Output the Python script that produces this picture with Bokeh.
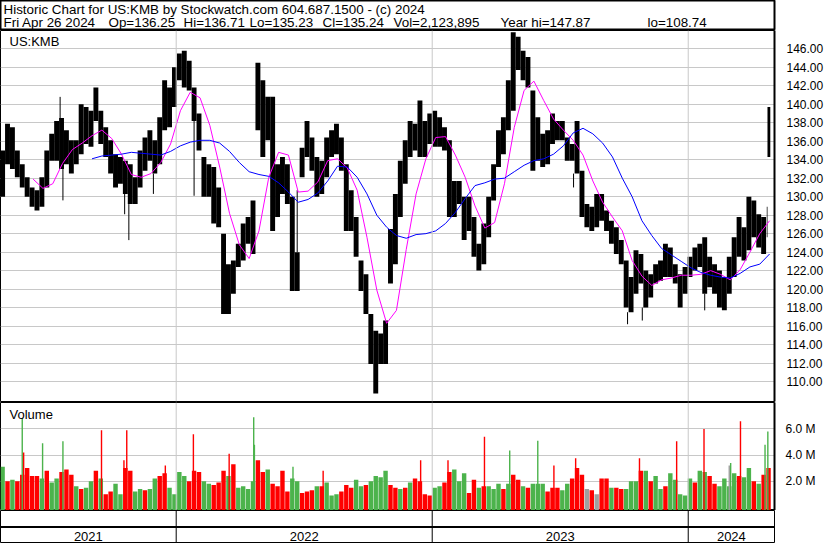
import pandas as pd
from bokeh.plotting import figure
from bokeh.layouts import column
from bokeh.models import Range1d, FixedTicker, PrintfTickFormatter, Span, Label, ColumnDataSource
from bokeh.embed import file_html
from bokeh.resources import INLINE
from bokeh.core.properties import value

FONT = "Liberation Sans"
DAY = 86400000.0

# ---------------- data ----------------
header_line1 = "Historic Chart for US:KMB by Stockwatch.com 604.687.1500 - (c) 2024"
header_fields = ["Fri Apr 26 2024", "Op=136.25", "Hi=136.71", "Lo=135.23", "Cl=135.24",
                 "Vol=2,123,895", "Year hi=147.87", "lo=108.74"]
symbol = "US:KMB"
years = ["2021", "2022", "2023", "2024"]
first_week = "2021-04-26"          # Monday of first weekly bar
last_days = ["2024-04-22", "2024-04-23"]   # final week split (Mon / Tue-Fri)
last_days_len = [1, 4]

# weekly high / low (weeks 0..155) + the two final partial bars
price_high = [135.0,137.9,137.5,135.0,133.5,132.1,131.0,130.7,132.1,135.0,
              136.8,138.2,138.5,137.2,136.1,136.1,140.0,139.7,139.3,141.8,
              139.3,137.5,136.1,134.6,134.3,133.9,133.5,132.1,135.0,136.4,
              137.2,136.1,138.6,142.6,141.8,144.0,145.5,145.8,144.7,141.8,
              139.0,134.3,133.5,133.2,131.0,126.0,122.7,123.1,124.9,127.1,
              127.8,129.6,144.5,142.6,140.8,140.8,133.5,134.3,133.5,130.0,
              124.0,135.3,138.2,136.4,134.3,133.9,136.4,137.2,137.9,136.4,
              133.5,130.7,127.8,123.1,121.6,117.3,115.5,115.2,116.6,126.5,
              130.3,133.9,136.1,138.2,137.9,140.4,138.2,139.0,139.3,138.6,
              137.5,136.1,131.7,131.7,130.0,130.0,127.8,124.9,127.1,130.0,
              133.5,137.2,138.6,142.6,147.8,147.3,145.8,145.1,141.5,138.6,
              136.8,137.2,139.0,138.2,138.2,136.4,135.7,138.2,132.8,129.2,
              128.9,130.3,130.3,128.5,127.4,126.7,125.3,123.1,121.3,124.2,
              123.8,122.0,121.6,122.7,123.1,124.9,124.5,122.7,121.6,122.4,
              123.5,124.5,124.9,125.6,123.5,122.7,122.0,121.3,123.5,125.6,
              127.8,126.7,130.0,129.6,128.1,127.8,
              128.9,139.7]
price_low = [130.0,133.5,133.0,132.1,131.0,130.0,128.9,128.5,128.9,131.0,
             133.9,133.9,133.0,133.5,132.5,133.5,134.6,135.7,135.4,138.2,
             135.7,134.3,132.5,131.0,131.4,130.3,129.2,129.2,131.0,132.8,
             133.9,132.5,133.5,137.2,137.5,139.7,142.6,141.8,141.5,138.2,
             135.0,130.0,130.0,127.1,126.7,117.3,117.3,119.5,122.4,123.1,
             124.9,123.8,137.2,134.3,136.1,126.3,127.8,130.3,129.2,119.8,
             119.8,132.1,134.3,132.8,130.0,130.3,132.1,134.3,134.6,132.8,
             126.3,126.3,123.5,119.8,117.3,111.9,108.7,111.9,111.9,120.6,
             122.7,127.8,131.4,134.3,135.0,134.3,134.3,135.7,135.4,135.4,
             135.0,127.8,127.8,129.2,125.3,126.3,123.5,122.0,122.7,125.6,
             129.6,133.2,134.6,137.2,139.3,143.7,142.6,141.8,132.8,133.9,
             133.2,133.5,135.7,136.1,136.1,133.9,133.9,132.5,127.8,126.7,
             126.3,126.7,127.4,126.3,124.9,123.8,122.7,118.0,117.5,119.5,
             120.6,118.0,119.1,120.6,120.9,121.3,121.3,120.6,118.0,119.5,
             121.3,122.0,122.4,119.5,120.2,119.5,118.0,117.7,119.5,121.3,
             123.5,123.1,124.2,125.6,124.5,123.8,
             125.6,134.3]

# single-day extremes (wicks)
wick_dates = ["2021-07-19", "2021-07-23", "2021-10-19", "2021-10-25", "2021-11-29", "2022-01-26",
              "2022-06-22", "2023-07-21", "2023-10-06", "2023-10-27", "2024-01-24"]
wick_hi = [140.8, 133.0, 130.3, 129.2, 132.5, 138.2, 130.7, 132.5, 117.5, 118.0, 119.5]
wick_lo = [138.5, 129.6, 128.1, 125.3, 130.3, 130.1, 124.0, 131.0, 116.2, 116.6, 117.7]

# moving averages, sampled every 2nd week (week-ending Friday)
pink_first_week = 6
pink_ma = [131.9,130.9,131.4,133.6,135.1,135.8,136.6,137.2,136.3,134.6,
           132.4,132.1,132.5,133.7,135.7,139.3,141.3,140.7,137.7,133.2,
           128.2,124.8,123.3,126.3,132.1,134.8,134.5,130.5,130.6,131.6,
           133.9,134.1,133.1,130.7,125.6,119.9,116.3,117.7,124.3,130.3,
           134.1,136.4,136.5,134.5,132.1,129.0,126.6,127.2,131.4,137.5,
           141.5,142.5,140.4,138.4,137.2,136.1,134.5,131.7,129.4,127.8,
           126.3,123.1,121.4,120.4,121.0,121.2,121.5,121.5,121.6,122.0,
           121.6,121.0,122.1,124.0,126.0,127.4]
blue_first_week = 18
blue_ma = [134.1,134.4,134.5,134.6,134.8,134.7,134.6,134.5,134.9,135.5,
           135.9,136.1,136.1,135.8,134.9,133.7,132.7,132.4,132.2,131.5,
           130.5,129.4,129.7,130.4,131.7,133.3,133.2,132.1,130.3,128.0,
           126.7,125.8,125.5,125.9,126.0,126.3,127.1,128.3,129.8,131.2,
           131.5,131.9,132.0,132.7,133.4,133.9,134.1,134.6,135.5,136.9,
           137.4,136.8,135.8,134.3,132.0,130.0,127.4,125.8,124.4,123.7,
           123.0,122.3,121.8,121.5,121.3,121.2,121.7,122.4,122.7,123.8]

# weekly typical volume (millions) and up/down colour (g / r / k=unchanged)
vol_base = [3.1,2.0,2.1,2.0,2.5,3.0,2.4,2.4,2.2,2.8,
            1.9,2.2,2.7,2.9,2.5,1.6,1.4,1.5,2.0,2.8,
            2.2,1.0,1.2,1.8,1.0,3.0,2.8,1.2,1.4,1.3,
            1.4,2.2,2.4,2.6,1.5,1.0,2.7,2.4,2.0,2.8,
            2.7,2.0,1.8,1.7,1.9,2.8,2.4,3.3,1.5,1.6,
            1.4,2.0,3.6,2.7,2.9,1.8,1.6,2.8,1.2,2.2,
            2.0,1.1,1.2,1.3,1.6,1.6,1.9,0.9,1.0,1.2,
            1.7,1.5,2.1,1.6,1.7,2.0,2.4,2.3,2.8,1.7,
            1.5,1.4,1.5,1.9,2.2,2.0,1.0,0.9,1.5,1.6,
            1.9,2.7,2.9,2.0,2.6,1.1,2.1,1.5,1.6,1.6,
            1.4,1.8,1.4,1.8,2.5,2.1,1.6,1.5,1.8,1.8,
            1.8,1.2,1.5,1.5,1.3,1.8,2.2,3.0,2.5,1.4,
            1.3,1.0,2.2,2.2,1.5,1.5,1.4,1.4,2.0,2.0,
            2.8,2.8,2.0,2.4,1.4,1.6,2.6,2.1,1.0,0.9,
            2.2,1.9,2.8,2.7,2.4,1.8,1.6,2.2,1.6,2.6,
            2.4,2.3,3.0,2.0,1.8,2.5,3.0]
vol_dir = ("grgrrrrrgr" "ggrrrgrggr" "grrggrrggr" "ggrrggggrr" "rggrrrgrgg"
           "ggrrgrrrrg" "grrrgrgggr" "rrggrggggr" "rgrgrrrrgg" "rrgggrrgrg"
           "ggrgrrgrgg" "grrrggrrrk" "rkrrgrrggg" "rgrggrgggg" "grggrrgggg" "rggrgrr")
spike_dates = ["2021-05-26", "2021-05-28", "2021-06-24", "2021-07-23", "2021-09-16", "2021-10-18",
               "2021-10-22", "2021-12-16", "2022-01-25", "2022-03-17", "2022-04-21", "2022-04-22",
               "2022-06-16", "2022-07-29", "2022-12-15", "2023-01-23", "2023-03-16", "2023-04-21",
               "2023-05-31", "2023-06-23", "2023-07-24", "2023-10-23", "2023-12-15", "2024-01-23",
               "2024-02-28", "2024-03-01", "2024-03-15", "2024-04-19", "2024-04-23"]
spike_vol = [6.8, 4.2, 4.9, 5.05, 5.9, 3.6, 5.9, 3.2, 5.6, 4.1, 6.9, 4.8, 3.1, 2.8, 3.6, 3.6, 5.4,
             4.35, 5.1, 3.2, 3.75, 3.75, 5.05, 6.0, 3.2, 3.4, 6.6, 4.8, 5.8]
spike_dir = "grggrrrrrrggg" "rrrrggrrrrrkgrgg"

price_ticks = list(range(110, 147, 2))
vol_ticks = [2, 4, 6]
price_lo, price_hi = 107.84, 147.98
vol_lo, vol_hi = -0.25, 8.03

# ---------------- derived ----------------
COL = {"g": "#4cb34c", "r": "#ff0000", "k": "#a0a0a0"}
mondays = pd.date_range(first_week, periods=157, freq="7D")
starts = list(mondays[:156]) + [pd.Timestamp(d) for d in last_days]
lens = [5] * 156 + last_days_len
bar_x = [s + pd.Timedelta(days=n / 2) for s, n in zip(starts, lens)]
bar_w = [7 * DAY] * 156 + [n * DAY for n in last_days_len]

fridays = mondays + pd.Timedelta(days=4)
pink_x = list(fridays[pink_first_week::2])
blue_x = list(fridays[blue_first_week::2])

vol_x = list(mondays + pd.Timedelta(days=2.5))
vol_c = [COL[c] for c in vol_dir]
spike_x = pd.to_datetime(spike_dates) + pd.Timedelta(hours=12)
spike_c = [COL[c] for c in spike_dir]
wick_x = pd.to_datetime(wick_dates) + pd.Timedelta(hours=12)

x_start = pd.Timestamp("2021-04-25 12:00")
x_end = pd.Timestamp("2024-05-03")
xr = Range1d(x_start, x_end)
year_starts = [pd.Timestamp(f"{y}-01-01") for y in years[1:]]
bounds = [x_start] + year_starts + [x_end]
year_mid = [bounds[i] + (bounds[i + 1] - bounds[i]) / 2 for i in range(len(years))]

W = 830
RB = 56
GRID = "#c8c8c8"
RAISE = 4   # text renders a little low; lift baselines


def panel(h, yr, border_bottom=0, axis=True):
    f = figure(width=W, height=h, x_range=xr, y_range=yr, x_axis_type="datetime",
               x_axis_location=None, y_axis_location="right" if axis else None,
               output_backend="svg", toolbar_location=None,
               min_border_left=0, min_border_right=RB, min_border_top=0,
               min_border_bottom=border_bottom)
    f.outline_line_color = "black"
    f.outline_line_width = 1
    f.xgrid.grid_line_color = None
    f.background_fill_color = "white"
    f.border_fill_color = "white"
    # outer right border of the whole chart
    f.add_layout(Span(location=W - 0.5, location_units="screen", dimension="height",
                      line_color="black", line_width=1))
    return f


def style_axis(f, ticks):
    ax = f.yaxis[0]
    ax.ticker = FixedTicker(ticks=ticks)
    ax.major_tick_line_color = None
    ax.minor_tick_line_color = None
    ax.axis_line_color = "black"
    ax.axis_line_width = 2
    ax.major_label_standoff = 6
    ax.major_label_text_font = FONT
    ax.major_label_text_font_size = "12px"
    ax.major_label_text_color = "#000000"
    f.ygrid.ticker = FixedTicker(ticks=ticks)
    f.ygrid.grid_line_color = GRID


# header
HH = 30
hdr = figure(width=W, height=HH, x_range=Range1d(0, W), y_range=Range1d(0, HH),
             x_axis_location=None, y_axis_location=None, output_backend="svg",
             toolbar_location=None, min_border=0)
hdr.outline_line_color = "black"
hdr.outline_line_width = 2
hdr.xgrid.grid_line_color = None
hdr.ygrid.grid_line_color = None
hdr.add_layout(Label(x=3, y=HH - 13 + RAISE, x_units="screen", y_units="screen", text=header_line1,
                     text_font=FONT, text_font_size="13.4px",
                     text_baseline="alphabetic", text_color="black"))
hx = [3, 108, 183, 249, 322, 393, 500, 647]
for xx, t in zip(hx, header_fields):
    hdr.add_layout(Label(x=xx, y=HH - 26 + RAISE, x_units="screen", y_units="screen", text=t,
                         text_font=FONT, text_font_size="13.4px",
                         text_baseline="alphabetic", text_color="black"))

# price panel
PH = 372
p = panel(PH, Range1d(price_lo, price_hi), border_bottom=1)
style_axis(p, price_ticks)
p.yaxis[0].formatter = PrintfTickFormatter(format="%.2f")
for ys in year_starts:
    p.add_layout(Span(location=ys.value / 1e6, dimension="height", line_color=GRID, line_width=1))
src = ColumnDataSource(dict(x=bar_x, w=bar_w, top=price_high, bottom=price_low))
p.vbar(x="x", width="w", top="top", bottom="bottom", source=src, fill_color="black", line_color=None)
p.segment(x0=wick_x, y0=wick_hi, x1=wick_x, y1=wick_lo, line_color="black", line_width=1)
p.line(pink_x, pink_ma, line_color="#ff00ff", line_width=1)
p.line(blue_x, blue_ma, line_color="#0000ff", line_width=1)
p.add_layout(Label(x=9, y=PH - 1 - 15 + RAISE, x_units="screen", y_units="screen", text=symbol,
                   text_font=FONT, text_font_size="13px", text_baseline="alphabetic", text_color="black"))

# volume panel
VH = 108
v = panel(VH, Range1d(vol_lo, vol_hi))
style_axis(v, vol_ticks)
v.yaxis[0].major_label_overrides = {t: f"{t:.1f} M" for t in vol_ticks}
v.yaxis[0].major_label_standoff = 5
for ys in year_starts:
    v.add_layout(Span(location=ys.value / 1e6, dimension="height", line_color=GRID, line_width=1))
v.vbar(x=vol_x, width=6.3 * DAY, top=vol_base, bottom=vol_lo - 0.1, fill_color=vol_c, line_color=None)
v.vbar(x=spike_x, width=2.0 * DAY, top=spike_vol, bottom=vol_lo - 0.1, fill_color=spike_c, line_color=None)
v.add_layout(Label(x=9, y=VH - 15.5 + RAISE, x_units="screen", y_units="screen", text="Volume",
                   text_font=FONT, text_font_size="13px", text_baseline="alphabetic", text_color="black"))

# year axis
BH = 33
b = panel(BH, Range1d(0, BH), axis=False)
b.ygrid.grid_line_color = None
b.add_layout(Span(location=BH - 16.5, dimension="width", line_color="black", line_width=2))
for ys in year_starts:
    b.add_layout(Span(location=ys.value / 1e6, dimension="height", line_color="black", line_width=1))
b.text(x=year_mid, y=[3 + RAISE] * len(years), text=years, text_align="center", text_baseline="alphabetic",
       text_font=value(FONT), text_font_size="13px", text_color="black")

layout = column(hdr, p, v, b, spacing=0)
open("out.html", "w").write(file_html(layout, INLINE))
